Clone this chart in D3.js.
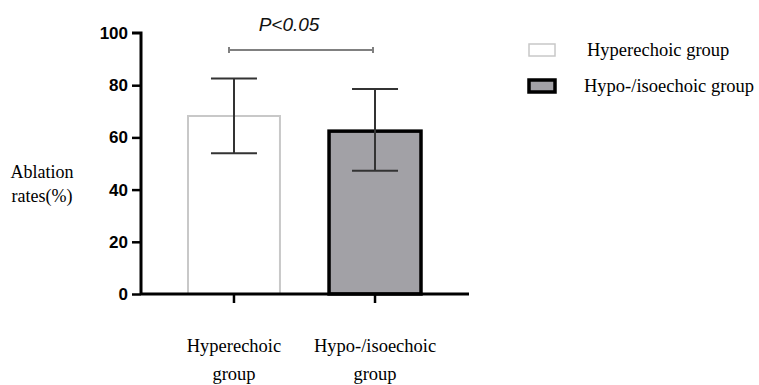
<!DOCTYPE html>
<html>
<head>
<meta charset="utf-8">
<script src="https://cdn.jsdelivr.net/npm/d3@7/dist/d3.min.js"></script>
<style>
  html, body { margin: 0; padding: 0; background: #fff; }
  svg { display: block; }
</style>
</head>
<body>
<div id="chart"></div>
<script>
// Ablation rates by echogenicity group (mean with SD error bars)
const groups = ["Hyperechoic group", "Hypo-/isoechoic group"];
const axisLabels = [["Hyperechoic", "group"], ["Hypo-/isoechoic", "group"]];
const means = [68.2, 62.4];
const errLow = [53.9, 47.2];
const errHigh = [82.6, 78.5];
const yTicks = [0, 20, 40, 60, 80, 100];
const fills = ["#ffffff", "#a2a1a6"];
const strokes = ["#c8c8c8", "#000000"];
const strokeWidths = [2, 3.5];
const sigLabel = "P<0.05";

const W = 759, H = 385;
const svg = d3.select("#chart").append("svg")
  .attr("width", W).attr("height", H);

const x = d3.scaleBand().domain(groups).range([188, 421]).paddingInner(0.348).paddingOuter(0);
const y = d3.scaleLinear().domain([0, 100]).range([294, 33]);

// bars
svg.selectAll("rect.bar").data(groups).enter().append("rect")
  .attr("class", "bar")
  .attr("x", d => x(d))
  .attr("width", x.bandwidth())
  .attr("y", (d, i) => y(means[i]))
  .attr("height", (d, i) => y(0) - y(means[i]))
  .attr("fill", (d, i) => fills[i])
  .attr("stroke", (d, i) => strokes[i])
  .attr("stroke-width", (d, i) => strokeWidths[i]);

// error bars
const capHalf = 23;
groups.forEach((g, i) => {
  const cx = x(g) + x.bandwidth() / 2;
  const eb = svg.append("g").attr("stroke", "#333").attr("stroke-width", 2);
  eb.append("line").attr("x1", cx).attr("x2", cx).attr("y1", y(errHigh[i])).attr("y2", y(errLow[i]));
  eb.append("line").attr("x1", cx - capHalf).attr("x2", cx + capHalf).attr("y1", y(errHigh[i])).attr("y2", y(errHigh[i]));
  eb.append("line").attr("x1", cx - capHalf).attr("x2", cx + capHalf).attr("y1", y(errLow[i])).attr("y2", y(errLow[i]));
});

// y axis
const yAxis = svg.append("g")
  .attr("transform", "translate(141,0)")
  .call(d3.axisLeft(y).tickValues(yTicks).tickSize(9).tickPadding(4));
yAxis.select(".domain").attr("d", `M-9,${y(100)}H0V${y(0)}`).attr("stroke-width", 3).attr("stroke", "#000");
yAxis.selectAll(".tick line").attr("stroke-width", 2.5).attr("stroke", "#000");
yAxis.selectAll(".tick text")
  .attr("font-family", "Liberation Sans, Arial, sans-serif")
  .attr("font-weight", "bold").attr("font-size", 17).attr("fill", "#000");
yAxis.selectAll(".tick").filter(d => d === 100).select("line").remove();

// x axis
const xAxis = svg.append("g")
  .attr("transform", `translate(0,${y(0)})`)
  .call(d3.axisBottom(x).tickSize(9).tickFormat(""));
xAxis.select(".domain").attr("d", `M141,0H469`).attr("stroke-width", 3).attr("stroke", "#000");
xAxis.selectAll(".tick line").attr("stroke-width", 2.5).attr("stroke", "#000");

const serif = "Liberation Serif, Times New Roman, serif";

// category labels
groups.forEach((g, i) => {
  const cx = x(g) + x.bandwidth() / 2;
  const t = svg.append("text")
    .attr("text-anchor", "middle")
    .attr("font-family", serif)
    .attr("font-size", 18.5).attr("fill", "#000");
  axisLabels[i].forEach((line, k) => {
    t.append("tspan").attr("x", cx).attr("y", 352 + k * 28).text(line);
  });
});

// y axis title
const yt = svg.append("text")
  .attr("text-anchor", "middle")
  .attr("font-family", serif)
  .attr("font-size", 18).attr("fill", "#000");
yt.append("tspan").attr("x", 42).attr("y", 178).text("Ablation");
yt.append("tspan").attr("x", 42).attr("y", 202).text("rates(%)");

// significance bracket
const c0 = x(groups[0]) + x.bandwidth() / 2 - 5;
const c1 = x(groups[1]) + x.bandwidth() / 2 - 2;
const sig = svg.append("g").attr("stroke", "#808080").attr("stroke-width", 2);
sig.append("line").attr("x1", c0).attr("x2", c1).attr("y1", 50).attr("y2", 50);
sig.append("line").attr("x1", c0).attr("x2", c0).attr("y1", 47).attr("y2", 53);
sig.append("line").attr("x1", c1).attr("x2", c1).attr("y1", 47).attr("y2", 53);
svg.append("text")
  .attr("x", (c0 + c1) / 2 - 12).attr("y", 31)
  .attr("text-anchor", "middle")
  .attr("font-family", "Liberation Sans, Arial, sans-serif")
  .attr("font-style", "italic").attr("font-size", 19).attr("fill", "#111")
  .text(sigLabel);

// legend
const legend = svg.append("g");
groups.forEach((g, i) => {
  const ly = 44 + i * 36;
  legend.append("rect")
    .attr("x", 529).attr("y", ly).attr("width", 26).attr("height", 12)
    .attr("fill", fills[i]).attr("stroke", strokes[i])
    .attr("stroke-width", i === 0 ? 1.5 : 3.5);
  legend.append("text")
    .attr("x", i === 0 ? 587 : 584).attr("y", ly + 12)
    .attr("font-family", serif)
    .attr("font-size", 18.5).attr("fill", "#000")
    .text(g);
});
</script>
</body>
</html>
